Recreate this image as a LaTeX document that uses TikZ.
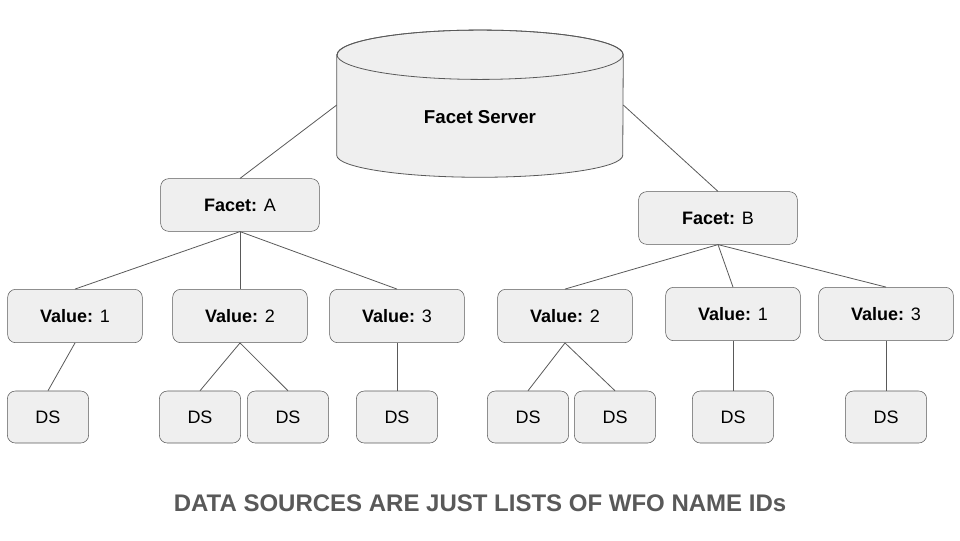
\documentclass[tikz,border=0pt]{standalone}
\usepackage{fontspec}
\setmainfont{Liberation Sans}
\usetikzlibrary{positioning,calc}
\definecolor{BOX-FILL}{RGB}{239, 239, 239}
\definecolor{LINE-GRAY}{RGB}{89, 89, 89}
\definecolor{NOTE-GRAY}{RGB}{89, 89, 89}

\begin{document}
\begin{tikzpicture}[x=0.75pt,y=-0.75pt,
  box/.style={draw=LINE-GRAY, fill=BOX-FILL, rounded corners=6pt, inner sep=0pt,
    font=\fontsize{13.5}{16}\selectfont},
  facetbox/.style={box, minimum width=119pt, minimum height=39.5pt},
  valuebox/.style={box, minimum width=101pt, minimum height=40pt},
  dsbox/.style={box, minimum width=61pt, minimum height=39pt},
  link/.style={draw=LINE-GRAY, line width=0.6pt}]
  \useasboundingbox (0,0) rectangle (960,540);

  % Facet server (cylinder)
  \node[minimum width=214.5pt, minimum height=75pt, inner sep=0pt] (server) at (480,105) {};
  \filldraw[fill=BOX-FILL, draw=LINE-GRAY, line width=0.6pt]
    (server.north west) -- (server.south west)
    arc[start angle=180, end angle=360, x radius=107.25pt, y radius=16.5pt]
    -- (server.north east)
    arc[start angle=0, end angle=180, x radius=107.25pt, y radius=18.5pt] -- cycle;
  \draw[LINE-GRAY, line width=0.6pt] (server.north) ellipse [x radius=107.25pt, y radius=18.5pt];
  \node[font=\bfseries\fontsize{14}{16}\selectfont] (serverlabel) at (480,117) {Facet Server};

  % Facets
  \node[facetbox] (fa) at (240,205) {\textbf{Facet:} A};
  \node[facetbox] (fb) at (718,218) {\textbf{Facet:} B};

  % Values of facet A
  \node[valuebox] (va1) at (75,316) {\textbf{Value:} 1};
  \node[valuebox] (va2) at (240,316) {\textbf{Value:} 2};
  \node[valuebox] (va3) at (397,316) {\textbf{Value:} 3};

  % Values of facet B
  \node[valuebox] (vb2) at (565,316) {\textbf{Value:} 2};
  \node[valuebox] (vb1) at (733,314) {\textbf{Value:} 1};
  \node[valuebox] (vb3) at (886,314) {\textbf{Value:} 3};

  % Data sources
  \node[dsbox] (dsa1) at (48,417) {DS};
  \node[dsbox] (dsa2) at (200,417) {DS};
  \node[dsbox] (dsa3) at (288,417) {DS};
  \node[dsbox] (dsa4) at (397,417) {DS};
  \node[dsbox] (dsb1) at (528,417) {DS};
  \node[dsbox] (dsb2) at (615,417) {DS};
  \node[dsbox] (dsb3) at (733,417) {DS};
  \node[dsbox] (dsb4) at (886,417) {DS};

  % Connectors
  \draw[link] (server.west) -- (fa.north);
  \draw[link] (server.east) -- (fb.north);
  \foreach \v in {va1,va2,va3}
    \draw[link] (fa.south) -- (\v.north);
  \foreach \v in {vb1,vb2,vb3}
    \draw[link] (fb.south) -- (\v.north);
  \draw[link] (va1.south) -- (dsa1.north);
  \draw[link] (va2.south) -- (dsa2.north);
  \draw[link] (va2.south) -- (dsa3.north);
  \draw[link] (va3.south) -- (dsa4.north);
  \draw[link] (vb2.south) -- (dsb1.north);
  \draw[link] (vb2.south) -- (dsb2.north);
  \draw[link] (vb1.south) -- (dsb3.north);
  \draw[link] (vb3.south) -- (dsb4.north);

  % Note
  \node[NOTE-GRAY, font=\bfseries\fontsize{18}{21}\selectfont] (note) at (480,503)
    {DATA SOURCES ARE JUST LISTS OF WFO NAME IDs};
\end{tikzpicture}
\end{document}
